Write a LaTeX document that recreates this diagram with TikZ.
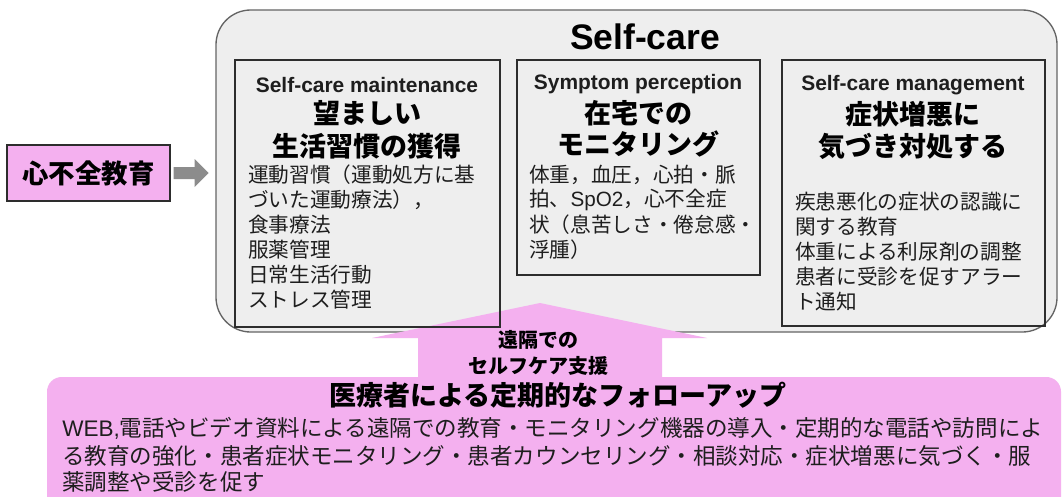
\documentclass[tikz,border=0pt]{standalone}
\usepackage{fontspec}
\setmainfont{Liberation Sans}
\newfontfamily\cjk{Noto Sans CJK JP}
\newfontfamily\lat{Liberation Sans}
\usetikzlibrary{calc}
\definecolor{pk}{RGB}{244,176,239}
\definecolor{outerfill}{RGB}{238,238,238}
\definecolor{outerline}{RGB}{100,100,100}
\definecolor{boxline}{RGB}{45,45,45}
\definecolor{txt}{RGB}{30,30,30}
\definecolor{garrow}{RGB}{140,140,140}
\begin{document}
\begin{tikzpicture}[x=0.75pt,y=-0.75pt,
  outerbox/.style={draw=outerline, fill=outerfill, line width=1pt, rounded corners=26pt},
  cbox/.style={draw=boxline, line width=0.8pt},
  bigtitle/.style={font=\lat\bfseries\fontsize{26.6pt}{30pt}\selectfont, text=black, inner sep=0pt},
  hdr/.style={font=\lat\bfseries\fontsize{15.7pt}{18pt}\selectfont, text=txt, inner sep=0pt},
  jtitle/.style={font=\cjk\bfseries\fontsize{20.25pt}{24pt}\selectfont, text=black, inner sep=0pt},
  body/.style={font=\cjk\fontsize{15.5pt}{18pt}\selectfont, text=txt, inner sep=0pt, anchor=west},
  edubox/.style={draw=boxline, fill=pk, line width=0.9pt, minimum width=122.25pt, minimum height=42pt, inner sep=0pt,
     font=\cjk\bfseries\fontsize{19.8pt}{22pt}\selectfont},
  arrlabel/.style={font=\cjk\bfseries\fontsize{15pt}{18pt}\selectfont, text=black, inner sep=0pt},
  fuptitle/.style={font=\cjk\bfseries\fontsize{20.25pt}{24pt}\selectfont, text=black, inner sep=0pt},
  fupbody/.style={font=\cjk\fontsize{16.9pt}{20pt}\selectfont, text=txt, inner sep=0pt, anchor=west}]
\useasboundingbox (0,0) rectangle (1062,496);
\fill[white] (0,0) rectangle (1062,496);

% outer self-care panel
\draw[outerbox] (216,10) rectangle (1057,332);
\coordinate (scwest) at (216,172);

% pink follow-up box and arrow
\fill[pk, rounded corners=11pt] (47,377) rectangle (1061,540);
\coordinate (tip) at (540,303);
\fill[pk] (418,380) -- (418,338) -- (372,338) -- (tip) -- (707,338) -- (662,338) -- (662,380) -- cycle;

% three boxes
\draw[cbox] (235,60) rectangle (500,327);
\draw[cbox] (517,60) rectangle (760,275);
\draw[cbox] (782,60) rectangle (1045,326);

\node[bigtitle] (sct) at (645,37) {Self-care};

% box 1
\node[hdr] (h1a) at (367,85) {Self-care maintenance};
\node[jtitle] (h1b) at (367,113) {望ましい};
\node[jtitle] (h1c) at (367,146) {生活習慣の獲得};
\foreach \t [count=\i] in {運動習慣（運動処方に基,づいた運動療法），,食事療法,服薬管理,日常生活行動,ストレス管理}
  \node[body] (b1l\i) at (248,150+25*\i) {\t};

% box 2
\node[hdr] (h2a) at (638,84) {Symptom perception};
\node[jtitle] (h2b) at (638,113) {在宅での};
\node[jtitle] (h2c) at (638,144) {モニタリング};
\foreach \t [count=\i] in {体重，血圧，心拍・脈,拍、{\lat SpO2}，心不全症,状（息苦しさ・倦怠感・,浮腫）}
  \node[body] (b2l\i) at (529,150+25*\i) {\t};

% box 3
\node[hdr] (h3a) at (913,85) {Self-care management};
\node[jtitle] (h3b) at (913,114) {症状増悪に};
\node[jtitle] (h3c) at (913,146) {気づき対処する};
\foreach \t [count=\i] in {疾患悪化の症状の認識に,関する教育,体重による利尿剤の調整,患者に受診を促すアラー,ト通知}
  \node[body] (b3l\i) at (795,177+25*\i) {\t};

% education box and grey arrow
\node[edubox] (edu) at (88.5,173) {心不全教育};
\coordinate (ga) at ($(edu.east)+(3,0)$);
\fill[garrow] (ga) ++(0,-6) -- ++(21,0) -- ++(0,-8) -- ++(14,14) -- ++(-14,14) -- ++(0,-8) -- ++(-21,0) -- cycle;

% arrow labels
\node[arrlabel] (al1) at (538,340) {遠隔での};
\node[arrlabel] (al2) at (538,366) {セルフケア支援};

% follow-up texts
\node[fuptitle] (ft) at (558,395) {医療者による定期的なフォローアップ};
\node[fupbody] (f1) at (62,428) {{\lat WEB,}電話やビデオ資料による遠隔での教育・モニタリング機器の導入・定期的な電話や訪問によ};
\node[fupbody] (f2) at (62,456) {る教育の強化・患者症状モニタリング・患者カウンセリング・相談対応・症状増悪に気づく・服};
\node[fupbody] (f3) at (62,482) {薬調整や受診を促す};
\end{tikzpicture}
\end{document}
